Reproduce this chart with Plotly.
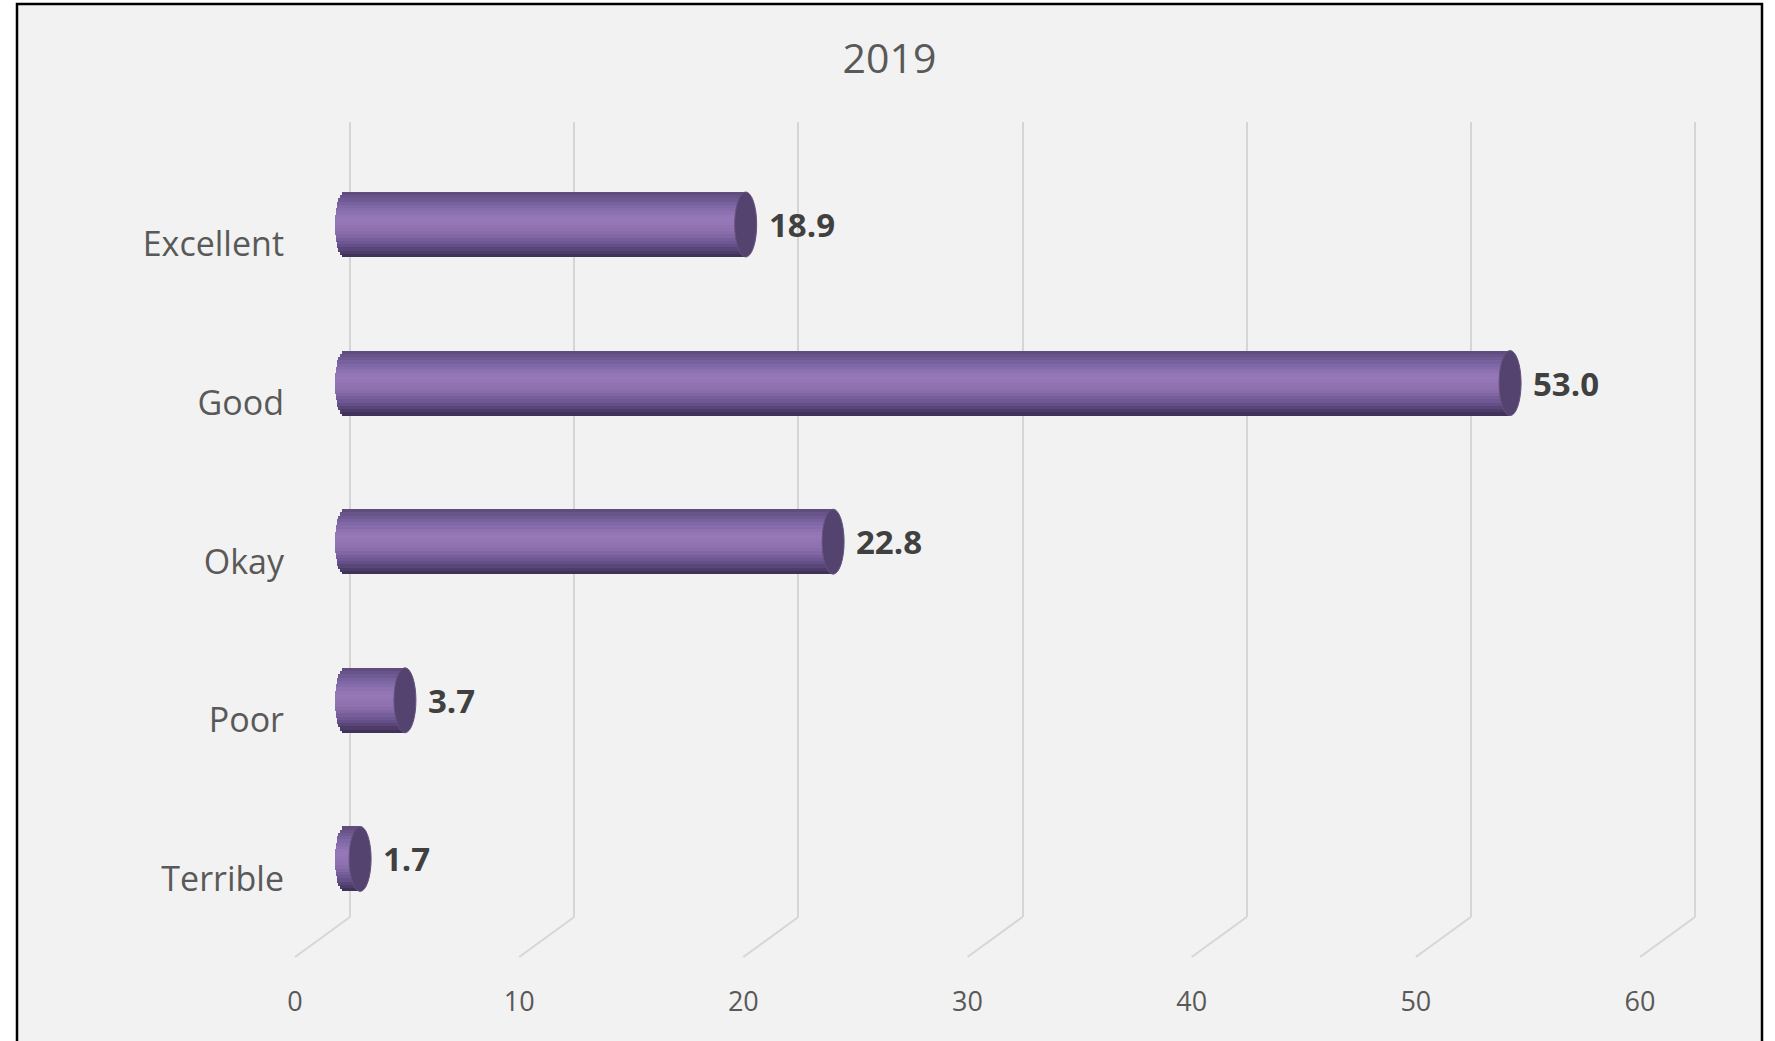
import numpy as np
import plotly.graph_objects as go

# ---------------- data ----------------
categories = ["Excellent", "Good", "Okay", "Poor", "Terrible"]
values = [18.9, 53.0, 22.8, 3.7, 1.7]
value_labels = ["18.9", "53.0", "22.8", "3.7", "1.7"]
tick_values = [0, 10, 20, 30, 40, 50, 60]
tick_labels = ["0", "10", "20", "30", "40", "50", "60"]
title_text = "2019"

# ---------------- layout constants (pixels) ----------------
FIG_W, FIG_H = 1775, 1041
L, R, T, B = 292, 1720, 122, 917          # plot area
PX_PER_UNIT = (1695 - 350) / 60.0           # horizontal scale
BAR_ZERO_PX = 322                           # zero of the bars (mid depth)
BACK_ZERO_PX = 350                          # zero of back wall gridlines
FRONT_ZERO_PX = 295                         # zero of front floor labels
CAT_PX = 158.6                              # category spacing
FIRST_CAT_PX = 224.5                        # centre of first bar
BAR_H = 0.41                                # bar thickness (category units)
CAP_RX_PX = 11
LEFT_CAP_CENTER_PX = 345
LEFT_CAP_RX_PX = 10
FLOOR_DEPTH_PX = 40

s = PX_PER_UNIT
x_range = [(L - BAR_ZERO_PX) / s, (R - BAR_ZERO_PX) / s]
x2_range = [(L - BACK_ZERO_PX) / s, (R - BACK_ZERO_PX) / s]
y_range = [(B - FIRST_CAT_PX) / CAT_PX, (T - FIRST_CAT_PX) / CAT_PX]
ypos = list(range(len(categories)))

# cylinder shading profile: t=-1 top edge, t=1 bottom edge
stops = [(-1.0, (92, 73, 122)), (-0.6, (124, 101, 163)), (-0.2, (151, 121, 185)),
         (0.2, (141, 112, 173)), (0.6, (106, 84, 144)), (0.85, (77, 60, 104)),
         (1.0, (59, 45, 82))]


def shade(t):
    for (t0, c0), (t1, c1) in zip(stops[:-1], stops[1:]):
        if t0 <= t <= t1:
            f = (t - t0) / (t1 - t0)
            c = [round(a + (b - a) * f) for a, b in zip(c0, c1)]
            return "rgb(%d,%d,%d)" % tuple(c)
    return "rgb(%d,%d,%d)" % stops[-1][1]


fig = go.Figure()

# invisible trace to hold the back-wall axis
fig.add_trace(go.Scatter(x=[0], y=[0], xaxis="x2", yaxis="y", mode="markers",
                         marker=dict(opacity=0), hoverinfo="skip", showlegend=False))

N = 20
strip = BAR_H / N
for k in range(N):
    t = -1 + (2 * k + 1) / N
    base_px = LEFT_CAP_CENTER_PX - LEFT_CAP_RX_PX * np.sqrt(max(0.0, 1 - t * t))
    base_k = (base_px - BAR_ZERO_PX) / s
    w = strip * 1.35 if k < N - 1 else strip
    fig.add_trace(go.Bar(
        y=ypos, x=[v - base_k for v in values], base=base_k, orientation="h",
        width=w, offset=-BAR_H / 2 + k * strip,
        marker=dict(color=shade(t), line=dict(width=0)),
        hoverinfo="skip", showlegend=False))

shapes = []
# chart frame / background
shapes.append(dict(type="rect", xref="paper", yref="paper", layer="below",
                   x0=(17 - L) / (R - L), x1=(1762 - L) / (R - L),
                   y0=(B - 1060) / (B - T), y1=(B - 4) / (B - T),
                   fillcolor="#f2f2f2", line=dict(color="black", width=2.5)))
# floor diagonals
for v in tick_values:
    shapes.append(dict(type="line", xref="x", yref="paper", layer="below",
                       x0=v + (BACK_ZERO_PX - BAR_ZERO_PX) / s, y0=0,
                       x1=v + (FRONT_ZERO_PX - BAR_ZERO_PX) / s,
                       y1=-FLOOR_DEPTH_PX / (B - T),
                       line=dict(color="#d6d6d6", width=2)))
# end caps of cylinders
for i, v in zip(ypos, values):
    shapes.append(dict(type="circle", xref="x", yref="y", layer="above",
                       x0=v - CAP_RX_PX / s, x1=v + CAP_RX_PX / s,
                       y0=i - BAR_H / 2, y1=i + BAR_H / 2,
                       fillcolor="#54436f", line=dict(color="#65537f", width=1)))

annotations = []
for i, v, lab in zip(ypos, values, value_labels):
    annotations.append(dict(x=v, y=i, xref="x", yref="y", text=lab, showarrow=False,
                            xanchor="left", yanchor="middle", xshift=21,
                            font=dict(family="Open Sans", size=33, color="#404040",
                                      weight="bold")))

fig.update_layout(
    width=FIG_W, height=FIG_H,
    margin=dict(l=L, r=FIG_W - R, t=T, b=FIG_H - B, pad=0),
    paper_bgcolor="white", plot_bgcolor="rgba(0,0,0,0)",
    barmode="overlay", bargap=0,
    showlegend=False,
    title=dict(text=title_text, xref="container", yref="container",
               x=889.5 / FIG_W, y=1 - 59 / FIG_H, xanchor="center", yanchor="middle",
               font=dict(family="Open Sans", size=41, color="#595959")),
    xaxis=dict(range=x_range, tickvals=tick_values, ticktext=tick_labels,
               showgrid=False, zeroline=False, showline=False, ticks="",
               ticklabelshift=FRONT_ZERO_PX - BAR_ZERO_PX, ticklabelstandoff=66,
               tickfont=dict(family="Open Sans", size=27, color="#595959")),
    xaxis2=dict(range=x2_range, overlaying="x", anchor="y", side="bottom",
                tickvals=tick_values, showticklabels=False, ticks="",
                showgrid=True, gridcolor="#d6d6d6", gridwidth=2,
                zeroline=False, showline=False),
    yaxis=dict(range=y_range, tickvals=ypos, ticktext=categories,
               showgrid=False, zeroline=False, showline=False, ticks="",
               ticklabelshift=-20, ticklabelstandoff=7,
               tickfont=dict(family="Open Sans", size=34, color="#595959")),
    shapes=shapes, annotations=annotations,
)

fig.write_html("out.html")
